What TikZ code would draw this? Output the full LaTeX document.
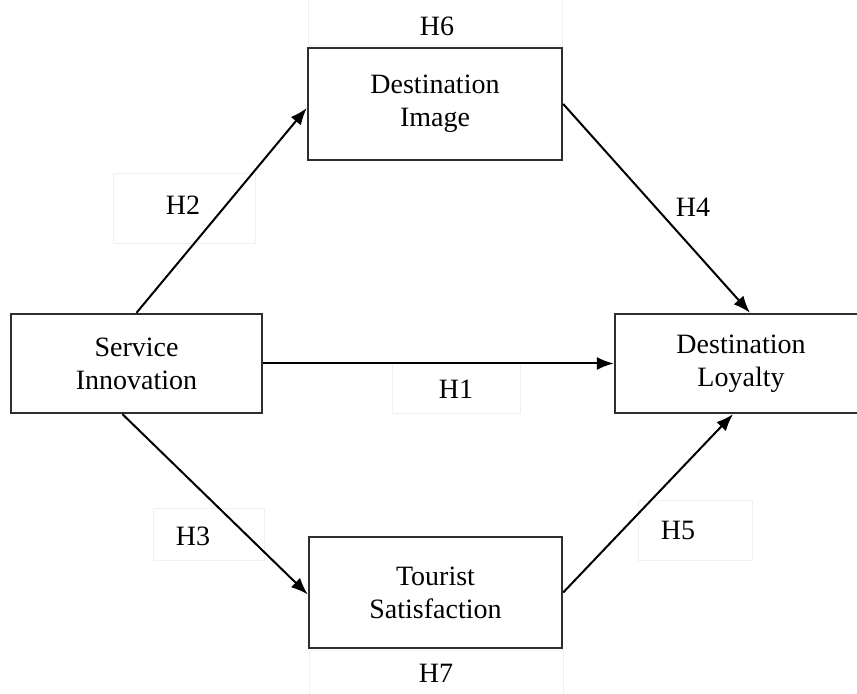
\documentclass[tikz,border=0pt]{standalone}
\usepackage{fontspec}
\setmainfont{Liberation Serif}
\usetikzlibrary{arrows.meta}
\definecolor{boxline}{HTML}{2E2E2E}
\definecolor{faintline}{HTML}{F0F0F0}

\begin{document}
\begin{tikzpicture}[
        x=0.5pt, y=-0.5pt,
        construct/.style={draw=boxline, line width=1.2pt, align=center,
          font=\fontsize{14}{16.5}\selectfont, inner sep=0pt},
        hyp/.style={inner sep=0pt, font=\fontsize{14}{16.5}\selectfont},
        frame/.style={draw=faintline, line width=0.4pt},
        path/.style={draw=black, line width=1pt,
          -{Latex[length=8.5pt,width=6.5pt]}},
      ]
      \useasboundingbox (0,0) rectangle (857,694);

      % Text frames round the labels
      \draw[frame] (308,-2) rectangle (562,45);
      \draw[frame] (113,173) rectangle (255,243);
      \draw[frame] (392,363) rectangle (520,413);
      \draw[frame] (153,508) rectangle (264,560);
      \draw[frame] (638,500) rectangle (752,560);
      \draw[frame] (309,650) rectangle (563,696);

      % Constructs
      \node[construct, minimum width=127pt, minimum height=56pt]
        (img) at (435,104) {Destination\\Image};
      \node[construct, minimum width=125.5pt, minimum height=49.5pt]
        (inno) at (136.5,363.5) {Service\\Innovation};
      \node[construct, minimum width=126pt, minimum height=49.5pt]
        (loyal) at (741,363.5) {Destination\\Loyalty};
      \node[construct, minimum width=126.5pt, minimum height=55.5pt]
        (sat) at (435.5,592.5) {Tourist\\Satisfaction};

      % Hypothesis labels
      \node[hyp] (h6) at (437,26) {H6};
      \node[hyp] (h2) at (183,205) {H2};
      \node[hyp] (h4) at (693,207) {H4};
      \node[hyp] (h1) at (456,389) {H1};
      \node[hyp] (h3) at (193,536) {H3};
      \node[hyp] (h5) at (678,530) {H5};
      \node[hyp] (h7) at (436,673) {H7};

      % Paths
      \draw[path] (inno.north) -- ([yshift=-2pt]img.west);
      \draw[path] (img.east) -- ([xshift=4.5pt]loyal.north);
      \draw[path] (inno.east) -- (loyal.west);
      \draw[path] ([xshift=-7pt]inno.south) -- ([yshift=-1pt]sat.west);
      \draw[path] (sat.east) -- ([xshift=-4pt]loyal.south);
    \end{tikzpicture}
\end{document}
